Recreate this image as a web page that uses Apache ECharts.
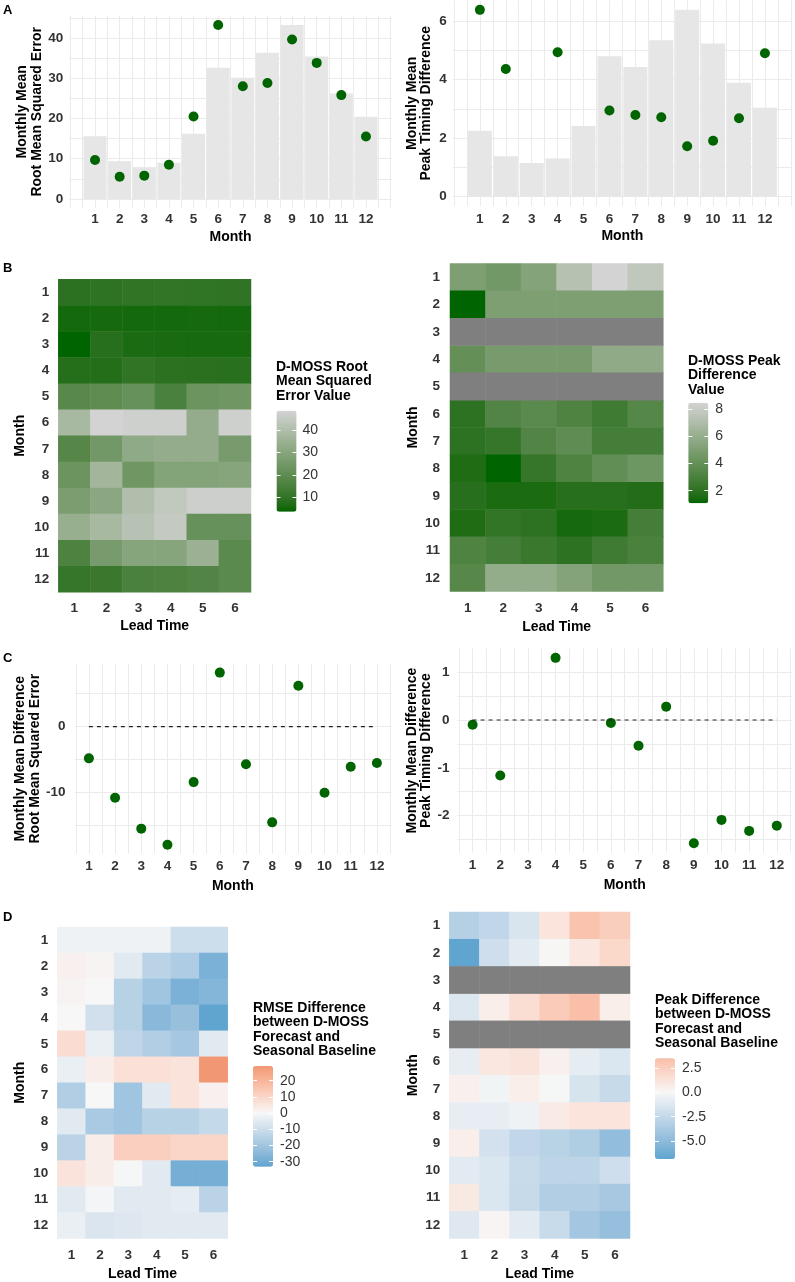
<!DOCTYPE html>
<html>
<head>
<meta charset="utf-8">
<script src="https://cdn.jsdelivr.net/npm/echarts@6/dist/echarts.min.js"></script>
<style>
  html, body { margin: 0; padding: 0; background: #fff; }
  #main { width: 795px; height: 1282px; }
</style>
</head>
<body>
<div id="main"></div>
<script>
// 数据
const months = [1, 2, 3, 4, 5, 6, 7, 8, 9, 10, 11, 12];
const monthLabels = ['1', '2', '3', '4', '5', '6', '7', '8', '9', '10', '11', '12'];
const leadTimes = ['1', '2', '3', '4', '5', '6'];

// A: 月均值 (柱 = 季节基线, 点 = D-MOSS)
const rmseBaseline = [15.6, 9.4, 7.9, 9.0, 16.2, 32.6, 30.1, 36.3, 43.2, 35.4, 26.2, 20.4];
const rmseDmoss = [9.7, 5.5, 5.8, 8.5, 20.5, 43.2, 28.0, 28.8, 39.6, 33.8, 25.8, 15.5];
const peakBaseline = [2.25, 1.38, 1.15, 1.30, 2.41, 4.80, 4.43, 5.34, 6.38, 5.23, 3.89, 3.04];
const peakDmoss = [6.38, 4.36, null, 4.93, null, 2.94, 2.79, 2.71, 1.72, 1.91, 2.68, 4.90];

// B: D-MOSS 月 x 提前期
const rmseGrid = [
  [9.0, 9.5, 10.0, 10.2, 9.8, 9.7],
  [5.4, 5.6, 5.5, 5.5, 5.6, 5.4],
  [3.6, 8.2, 6.2, 6.0, 5.9, 5.8],
  [7.8, 7.6, 10.0, 8.8, 8.6, 8.4],
  [18.5, 20.0, 22.0, 15.5, 23.0, 24.0],
  [38.0, 48.6, 47.5, 47.5, 33.0, 47.5],
  [18.0, 25.0, 32.0, 33.0, 33.0, 26.0],
  [23.0, 37.0, 24.0, 29.0, 29.0, 30.0],
  [27.0, 31.0, 40.0, 44.0, 47.0, 47.0],
  [34.0, 38.0, 42.0, 45.0, 22.0, 22.0],
  [16.0, 26.0, 30.0, 30.0, 35.0, 19.0],
  [11.0, 12.0, 15.5, 16.0, 17.0, 19.0]
];
const peakGrid = [
  [5.0, 4.6, 5.3, 7.3, 8.49, 7.7],
  [1.07, 5.0, 5.0, 5.0, 5.0, 5.0],
  [null, null, null, null, null, null],
  [4.0, 4.8, 4.8, 4.8, 5.8, 5.8],
  [null, null, null, null, null, null],
  [2.0, 3.3, 3.6, 3.2, 2.6, 3.4],
  [2.0, 2.3, 3.3, 3.8, 2.8, 2.8],
  [1.6, 1.07, 2.3, 3.2, 3.9, 4.4],
  [1.8, 1.5, 1.5, 1.8, 1.8, 1.7],
  [1.6, 2.2, 2.0, 1.4, 1.5, 2.8],
  [3.2, 2.8, 2.4, 2.0, 2.6, 3.0],
  [3.5, 5.9, 5.9, 5.3, 4.6, 4.6]
];

// C: 月均差值
const rmseDiff = [-4.8, -10.76, -15.45, -17.9, -8.4, 8.2, -5.7, -14.5, 6.2, -10.0, -6.06, -5.5];
const peakDiff = [-0.10, -1.16, null, 1.30, null, -0.06, -0.54, 0.28, -2.58, -2.09, -2.32, -2.21];

// D: D-MOSS 与季节基线的差值
const rmseDiffGrid = [
  [-2, -2, -2, -2, -10, -10],
  [2, 1, -5, -14, -17, -28],
  [1, 0, -15, -20, -28, -26],
  [0, -9, -15, -25, -22, -33.1],
  [8, -3, -13, -16, -19, -5],
  [-3, 3, 7, 7, 6, 29.1],
  [-16, 0, -20, -5, 6, 2],
  [-5, -18, -20, -15, -15, -12],
  [-14, 3, 12, 12, 10, 10],
  [6, 3, -0.5, -5, -29, -29],
  [-5, -1, -5, -5, -4, -14],
  [-3, -7, -6, -5, -5, -5]
];
const peakDiffGrid = [
  [-3.2, -2.6, -1.5, 1.2, 3.3, 2.6],
  [-6.86, -2.0, -1.0, 0.0, 1.0, 2.0],
  [null, null, null, null, null, null],
  [-1.3, 0.6, 1.6, 2.8, 3.53, 0.6],
  [null, null, null, null, null, null],
  [-0.8, 1.0, 1.3, 0.4, -0.9, -1.4],
  [0.5, -0.3, 0.6, -0.1, -1.6, -2.4],
  [-0.8, -0.8, -0.4, 0.8, 1.2, 1.2],
  [0.6, -1.8, -2.6, -3.0, -3.5, -4.8],
  [-1.0, -1.4, -2.3, -2.8, -2.8, -2.0],
  [0.9, -1.4, -2.4, -3.4, -3.4, -3.8],
  [-1.2, 0.2, -1.0, -2.3, -4.0, -4.6]
];

// 样式
const FONT = 'Liberation Sans, Arial, sans-serif';
const tickText = { fontFamily: FONT, fontSize: 13.5, fontWeight: 'bold', color: '#333' };
const nameText = { fontFamily: FONT, fontSize: 14, fontWeight: 'bold', color: '#000', lineHeight: 14.5 };
const legendTitle = { fontFamily: FONT, fontSize: 14, fontWeight: 'bold', color: '#000', lineHeight: 14.4 };
const GREEN = '#006400';

// 工具函数
function points(arr) {
  return months.map((m, i) => [m, arr[i]]).filter(d => d[1] !== null);
}
function cells(grid) {
  const out = [];
  grid.forEach((row, r) => row.forEach((v, c) => { if (v !== null) out.push([c, r, v]); }));
  return out;
}
function naCells(grid) {
  const out = [];
  grid.forEach((row, r) => row.forEach((v, c) => { if (v === null) out.push([c, r, 0]); }));
  return out;
}
function every(step, lo, hi, digits) {
  return function (v) {
    const k = v / step;
    if (Math.abs(k - Math.round(k)) > 1e-6) return '';
    if (v < lo - 1e-6 || v > hi + 1e-6) return '';
    return digits ? v.toFixed(digits) : String(Math.round(v));
  };
}

// Lab 插值 (与 ggplot 的渐变一致)
function toLab(hex) {
  const n = parseInt(hex.slice(1), 16);
  const c = [(n >> 16) & 255, (n >> 8) & 255, n & 255].map(v => {
    v /= 255;
    return v <= 0.04045 ? v / 12.92 : Math.pow((v + 0.055) / 1.055, 2.4);
  });
  const x = (0.4124 * c[0] + 0.3576 * c[1] + 0.1805 * c[2]) / 0.95047;
  const y = 0.2126 * c[0] + 0.7152 * c[1] + 0.0722 * c[2];
  const z = (0.0193 * c[0] + 0.1192 * c[1] + 0.9505 * c[2]) / 1.08883;
  const f = t => t > 0.008856 ? Math.cbrt(t) : 7.787 * t + 16 / 116;
  return [116 * f(y) - 16, 500 * (f(x) - f(y)), 200 * (f(y) - f(z))];
}
function fromLab(lab) {
  const fy = (lab[0] + 16) / 116, fx = fy + lab[1] / 500, fz = fy - lab[2] / 200;
  const inv = t => t * t * t > 0.008856 ? t * t * t : (t - 16 / 116) / 7.787;
  const x = inv(fx) * 0.95047, y = inv(fy), z = inv(fz) * 1.08883;
  const r = 3.2406 * x - 1.5372 * y - 0.4986 * z;
  const g = -0.9689 * x + 1.8758 * y + 0.0415 * z;
  const b = 0.0557 * x - 0.2040 * y + 1.0570 * z;
  const enc = v => {
    v = v <= 0.0031308 ? 12.92 * v : 1.055 * Math.pow(v, 1 / 2.4) - 0.055;
    return Math.max(0, Math.min(255, Math.round(v * 255)));
  };
  return 'rgb(' + enc(r) + ',' + enc(g) + ',' + enc(b) + ')';
}
function ramp(hexes) {
  const labs = hexes.map(toLab);
  return function (t) {
    t = Math.max(0, Math.min(1, t));
    const seg = Math.min(labs.length - 2, Math.floor(t * (labs.length - 1)));
    const u = t * (labs.length - 1) - seg;
    const a = labs[seg], b = labs[seg + 1];
    return fromLab([0, 1, 2].map(i => a[i] + (b[i] - a[i]) * u));
  };
}
function sequential(low, high) {
  const f = ramp([low, high]);
  const stops = [];
  for (let i = 0; i <= 40; i++) stops.push(f(i / 40));
  return stops;
}
// 类似 scale_fill_gradient2 (中点 = 0)
function diverging(min, max) {
  const f = ramp(['#5FA5D0', '#F7F7F7', '#EF8A62']);
  const m = Math.max(-min, max);
  const stops = [];
  for (let i = 0; i <= 60; i++) {
    const v = min + (max - min) * i / 60;
    stops.push(f(0.5 + v / (2 * m)));
  }
  return stops;
}

function valAxis(o) {
  return {
    gridIndex: o.grid,
    type: 'value',
    min: o.min, max: o.max,
    minInterval: o.step, maxInterval: o.step,
    axisLine: { show: false },
    axisTick: { show: false },
    axisLabel: Object.assign({ margin: o.margin, formatter: o.fmt }, tickText),
    splitLine: { show: true, showMinLine: false, showMaxLine: false, lineStyle: { color: '#EBEBEB', width: 1 } },
    name: o.name, nameLocation: 'middle', nameGap: o.gap, nameRotate: o.rotate || 0,
    nameTextStyle: nameText
  };
}
function catAxis(o) {
  return {
    gridIndex: o.grid,
    type: 'category',
    data: o.data,
    inverse: !!o.inverse,
    axisLine: { show: false },
    axisTick: { show: false },
    axisLabel: Object.assign({ margin: o.margin, interval: 0 }, tickText),
    splitLine: { show: false },
    name: o.name, nameLocation: 'middle', nameGap: o.gap, nameRotate: o.rotate || 0,
    nameTextStyle: nameText
  };
}
function legendAxes(grid, min, max, ticks, digits, margin) {
  const tick = { show: true, inside: true, length: 4, customValues: ticks, lineStyle: { color: '#fff', width: 1 } };
  return [
    { gridIndex: grid, type: 'value', min: min, max: max, position: 'left', z: 10,
      axisLine: { show: false }, axisLabel: { show: false }, splitLine: { show: false }, axisTick: tick },
    { gridIndex: grid, type: 'value', min: min, max: max, position: 'right', z: 10,
      axisLine: { show: false }, splitLine: { show: false }, axisTick: tick,
      axisLabel: { show: true, customValues: ticks, margin: margin, fontFamily: FONT, fontSize: 14, color: '#333',
        formatter: v => digits ? v.toFixed(digits) : String(v) } }
  ];
}
function hiddenX(grid) {
  return { gridIndex: grid, type: 'value', min: 0, max: 1, show: false };
}

var chart = echarts.init(document.getElementById('main'));

var option = {
  animation: false,
  backgroundColor: '#fff',
  title: [
    { text: 'A', left: 3, top: 4, padding: 0, textStyle: { fontFamily: FONT, fontSize: 13, fontWeight: 'bold', color: '#000' } },
    { text: 'B', left: 3, top: 262, padding: 0, textStyle: { fontFamily: FONT, fontSize: 13, fontWeight: 'bold', color: '#000' } },
    { text: 'C', left: 3, top: 652, padding: 0, textStyle: { fontFamily: FONT, fontSize: 13, fontWeight: 'bold', color: '#000' } },
    { text: 'D', left: 3, top: 911, padding: 0, textStyle: { fontFamily: FONT, fontSize: 13, fontWeight: 'bold', color: '#000' } },
    { text: 'D-MOSS Root\nMean Squared\nError Value', left: 276, top: 360, padding: 0, textStyle: legendTitle },
    { text: 'D-MOSS Peak\nDifference\nValue', left: 688, top: 354, padding: 0, textStyle: legendTitle },
    { text: 'RMSE Difference\nbetween D-MOSS\nForecast and\nSeasonal Baseline', left: 253, top: 1001, padding: 0, textStyle: legendTitle },
    { text: 'Peak Difference\nbetween D-MOSS\nForecast and\nSeasonal Baseline', left: 655, top: 993, padding: 0, textStyle: legendTitle }
  ],
  grid: [
    { left: 69.3, top: 15.9, width: 322.4, height: 191.8 },   // A 左
    { left: 452.8, top: 0.5, width: 340.4, height: 205.5 },   // A 右
    { left: 58.3, top: 279.3, width: 192.7, height: 313 },    // B 左
    { left: 450, top: 263.5, width: 213.3, height: 328 },     // B 右
    { left: 74.5, top: 664, width: 316.8, height: 189.4 },    // C 左
    { left: 457.4, top: 648.6, width: 336.2, height: 204 },   // C 右
    { left: 57.3, top: 927, width: 170.4, height: 314 },      // D 左
    { left: 449.3, top: 912, width: 180.7, height: 327 },     // D 右
    { left: 276.5, top: 410.7, width: 20, height: 101 },      // 图例轴
    { left: 688.3, top: 402.7, width: 20, height: 100.6 },
    { left: 253, top: 1066, width: 20, height: 100.7 },
    { left: 655, top: 1058.3, width: 20, height: 100.7 }
  ],
  xAxis: [
    valAxis({ grid: 0, min: -0.045, max: 13.045, step: 0.5, fmt: every(1, 1, 12), margin: 5, name: 'Month', gap: 22 }),
    valAxis({ grid: 1, min: -0.045, max: 13.045, step: 0.5, fmt: every(1, 1, 12), margin: 6, name: 'Month', gap: 23 }),
    catAxis({ grid: 2, data: leadTimes, margin: 9, name: 'Lead Time', gap: 27 }),
    catAxis({ grid: 3, data: leadTimes, margin: 10, name: 'Lead Time', gap: 28 }),
    valAxis({ grid: 4, min: 0.45, max: 12.55, step: 0.5, fmt: every(1, 1, 12), margin: 6, name: 'Month', gap: 25 }),
    valAxis({ grid: 5, min: 0.45, max: 12.55, step: 0.5, fmt: every(1, 1, 12), margin: 6, name: 'Month', gap: 25 }),
    catAxis({ grid: 6, data: leadTimes, margin: 10, name: 'Lead Time', gap: 28 }),
    catAxis({ grid: 7, data: leadTimes, margin: 10, name: 'Lead Time', gap: 28 }),
    hiddenX(8), hiddenX(9), hiddenX(10), hiddenX(11)
  ],
  yAxis: [
    valAxis({ grid: 0, min: -2.165, max: 45.47, step: 5, fmt: every(10, 0, 40), margin: 6,
      name: 'Monthly Mean\nRoot Mean Squared Error', gap: 25, rotate: 90 }),
    valAxis({ grid: 1, min: -0.319, max: 6.70, step: 1, fmt: every(2, 0, 6), margin: 6,
      name: 'Monthly Mean\nPeak Timing Difference', gap: 19, rotate: 90 }),
    catAxis({ grid: 2, data: monthLabels, inverse: true, margin: 9, name: 'Month', gap: 31, rotate: 90 }),
    catAxis({ grid: 3, data: monthLabels, inverse: true, margin: 10, name: 'Month', gap: 30, rotate: 90 }),
    valAxis({ grid: 4, min: -19.205, max: 9.505, step: 5, fmt: every(10, -10, 0), margin: 9,
      name: 'Monthly Mean Difference\nRoot Mean Squared Error', gap: 32, rotate: 90 }),
    valAxis({ grid: 5, min: -2.774, max: 1.494, step: 0.5, fmt: every(1, -2, 1), margin: 8,
      name: 'Monthly Mean Difference\nPeak Timing Difference', gap: 24, rotate: 90 }),
    catAxis({ grid: 6, data: monthLabels, inverse: true, margin: 9, name: 'Month', gap: 30, rotate: 90 }),
    catAxis({ grid: 7, data: monthLabels, inverse: true, margin: 9, name: 'Month', gap: 29, rotate: 90 })
  ]
    .concat(legendAxes(8, 3.6, 48.6, [10, 20, 30, 40], 0, 6))
    .concat(legendAxes(9, 1.07, 8.49, [2, 4, 6, 8], 0, 7))
    .concat(legendAxes(10, -33.1, 29.1, [-30, -20, -10, 0, 10, 20], 0, 7))
    .concat(legendAxes(11, -6.86, 3.53, [-5, -2.5, 0, 2.5], 1, 7)),
  visualMap: [
    { type: 'continuous', seriesIndex: 4, min: 3.6, max: 48.6, calculable: false, hoverLink: false,
      left: 276.5, top: 410.7, itemWidth: 20, itemHeight: 101, padding: 0,
      inRange: { color: sequential(GREEN, '#D3D3D3') } },
    { type: 'continuous', seriesIndex: 5, min: 1.07, max: 8.49, calculable: false, hoverLink: false,
      left: 688.3, top: 402.7, itemWidth: 20, itemHeight: 100.6, padding: 0,
      inRange: { color: sequential(GREEN, '#D3D3D3') } },
    { type: 'continuous', seriesIndex: 11, min: -33.1, max: 29.1, calculable: false, hoverLink: false,
      left: 253, top: 1066, itemWidth: 20, itemHeight: 100.7, padding: 0,
      inRange: { color: diverging(-33.1, 29.1) } },
    { type: 'continuous', seriesIndex: 12, min: -6.86, max: 3.53, calculable: false, hoverLink: false,
      left: 655, top: 1058.3, itemWidth: 20, itemHeight: 100.7, padding: 0,
      inRange: { color: diverging(-6.86, 3.53) } }
  ],
  series: [
    // 0,1: A 左
    { type: 'bar', xAxisIndex: 0, yAxisIndex: 0, barWidth: 23, data: points(rmseBaseline),
      itemStyle: { color: '#E6E6E6' } },
    { type: 'scatter', xAxisIndex: 0, yAxisIndex: 0, symbolSize: 10, data: points(rmseDmoss),
      itemStyle: { color: GREEN, opacity: 1 } },
    // 2,3: A 右
    { type: 'bar', xAxisIndex: 1, yAxisIndex: 1, barWidth: 24, data: points(peakBaseline),
      itemStyle: { color: '#E6E6E6' } },
    { type: 'scatter', xAxisIndex: 1, yAxisIndex: 1, symbolSize: 10, data: points(peakDmoss),
      itemStyle: { color: GREEN, opacity: 1 } },
    // 4: B 左
    { type: 'heatmap', xAxisIndex: 2, yAxisIndex: 2, data: cells(rmseGrid) },
    // 5,6: B 右
    { type: 'heatmap', xAxisIndex: 3, yAxisIndex: 3, data: cells(peakGrid) },
    { type: 'heatmap', xAxisIndex: 3, yAxisIndex: 3, data: naCells(peakGrid), itemStyle: { color: '#7F7F7F' } },
    // 7,8: C 左
    { type: 'line', xAxisIndex: 4, yAxisIndex: 4, symbol: 'none', data: [[months[0], 0], [months[11], 0]],
      lineStyle: { color: '#222', width: 1.2, type: [4, 4] } },
    { type: 'scatter', xAxisIndex: 4, yAxisIndex: 4, symbolSize: 10, data: points(rmseDiff),
      itemStyle: { color: GREEN, opacity: 1 } },
    // 9,10: C 右
    { type: 'line', xAxisIndex: 5, yAxisIndex: 5, symbol: 'none', data: [[months[0], 0], [months[11], 0]],
      lineStyle: { color: '#222', width: 1.2, type: [4, 4] } },
    { type: 'scatter', xAxisIndex: 5, yAxisIndex: 5, symbolSize: 10, data: points(peakDiff),
      itemStyle: { color: GREEN, opacity: 1 } },
    // 11: D 左
    { type: 'heatmap', xAxisIndex: 6, yAxisIndex: 6, data: cells(rmseDiffGrid) },
    // 12,13: D 右
    { type: 'heatmap', xAxisIndex: 7, yAxisIndex: 7, data: cells(peakDiffGrid) },
    { type: 'heatmap', xAxisIndex: 7, yAxisIndex: 7, data: naCells(peakDiffGrid), itemStyle: { color: '#7F7F7F' } }
  ]
};

chart.setOption(option);
</script>
</body>
</html>
